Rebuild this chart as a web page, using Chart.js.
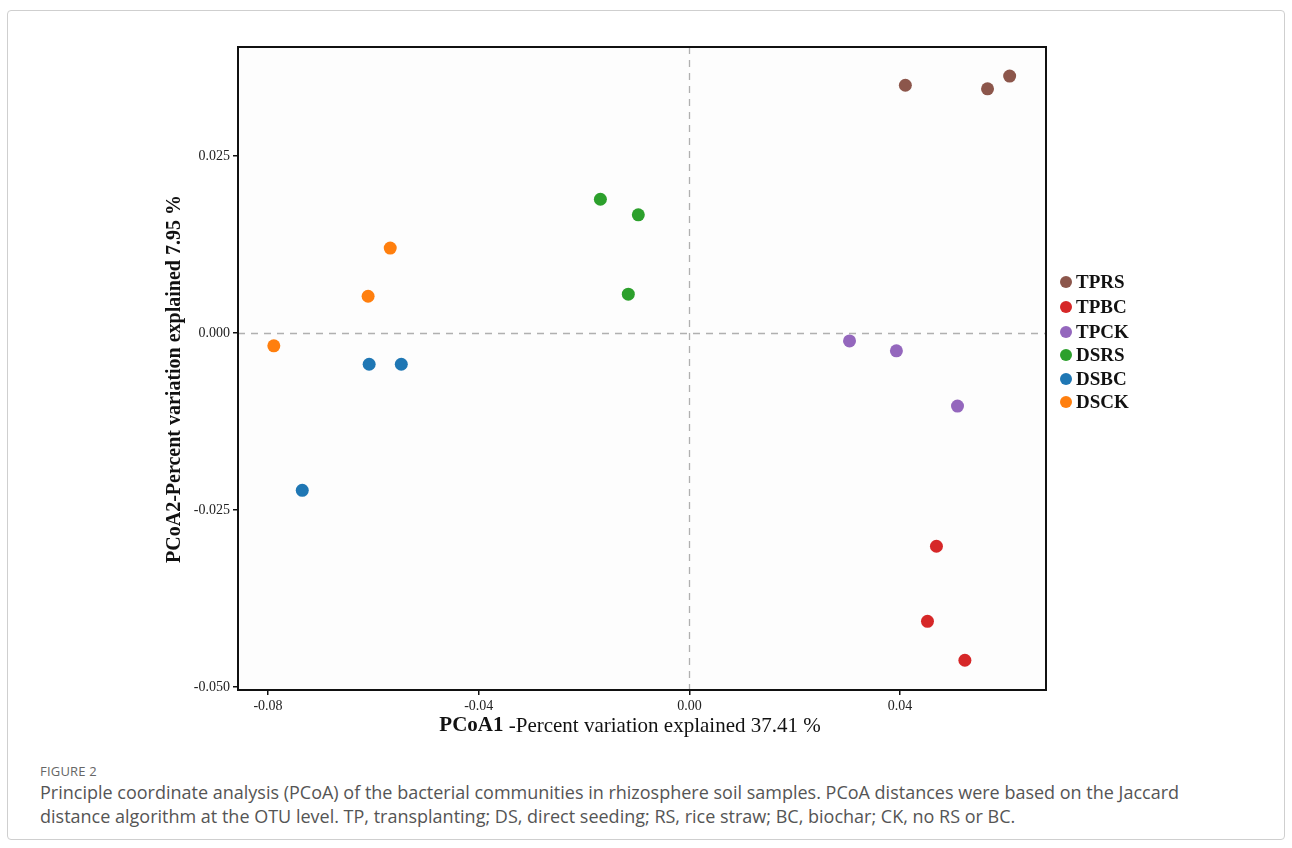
<!DOCTYPE html>
<html>
<head>
<meta charset="utf-8">
<script src="https://cdn.jsdelivr.net/npm/chart.js@4.4.1/dist/chart.umd.min.js"></script>
<style>
  body { margin: 0; background: #fff; }
  #frame { position: absolute; left: 7px; top: 10px; width: 1276px; height: 828px; border: 1px solid #cfcfcf; border-radius: 4px; }
  #wrap { position: absolute; left: 0; top: 0; width: 1292px; height: 750px; }
  #fig { position: absolute; left: 40px; top: 762px; font-family: "Open Sans", sans-serif; font-size: 13px; color: #666; letter-spacing: 0.2px; }
  #cap { position: absolute; left: 40px; top: 780px; width: 1185px; font-family: "Open Sans", sans-serif; font-size: 18px; line-height: 24px; color: #555; }
</style>
</head>
<body>
<div id="frame"></div>
<div id="wrap"><canvas id="pcoa"></canvas></div>
<div id="fig">FIGURE 2</div>
<div id="cap">Principle coordinate analysis (PCoA) of the bacterial communities in rhizosphere soil samples. PCoA distances were based on the Jaccard distance algorithm at the OTU level. TP, transplanting; DS, direct seeding; RS, rice straw; BC, biochar; CK, no RS or BC.</div>
<script>
// groupes et couleurs
const groupes = ['TPRS', 'TPBC', 'TPCK', 'DSRS', 'DSBC', 'DSCK'];
const couleurs = ['#8c564b', '#d62728', '#9467bd', '#2ca02c', '#1f77b4', '#ff7f0e'];

// coordonnées PCoA1 / PCoA2 de chaque échantillon
const tprs = [{x: 0.0410, y: 0.0350}, {x: 0.0566, y: 0.0345}, {x: 0.0608, y: 0.0363}];
const tpbc = [{x: 0.0469, y: -0.0301}, {x: 0.0452, y: -0.0407}, {x: 0.0523, y: -0.0462}];
const tpck = [{x: 0.0304, y: -0.0011}, {x: 0.0393, y: -0.0025}, {x: 0.0509, y: -0.0103}];
const dsrs = [{x: -0.0169, y: 0.0189}, {x: -0.0097, y: 0.0167}, {x: -0.0116, y: 0.0055}];
const dsbc = [{x: -0.0608, y: -0.0044}, {x: -0.0547, y: -0.0044}, {x: -0.0735, y: -0.0222}];
const dsck = [{x: -0.0789, y: -0.0018}, {x: -0.0610, y: 0.0052}, {x: -0.0568, y: 0.0120}];
const points = [tprs, tpbc, tpck, dsrs, dsbc, dsck];

const xTicks = [-0.08, -0.04, 0.00, 0.04];
const yTicks = [-0.050, -0.025, 0.000, 0.025];

const serif = '"Liberation Serif", "Times New Roman", serif';

// cadre, lignes zéro, titres d'axes et légende
const decor = {
    id: 'decor',
    beforeDatasetsDraw(chart) {
        const ctx = chart.ctx;
        const a = chart.chartArea;
        const sx = chart.scales.x, sy = chart.scales.y;
        ctx.save();
        ctx.fillStyle = '#fdfdfd';
        ctx.fillRect(a.left, a.top, a.right - a.left, a.bottom - a.top);
        ctx.strokeStyle = '#b0b0b0';
        ctx.lineWidth = 1.3;
        ctx.setLineDash([7, 6]);
        const x0 = Math.round(sx.getPixelForValue(0)) + 0.5;
        const y0 = Math.round(sy.getPixelForValue(0)) + 0.5;
        ctx.beginPath();
        ctx.moveTo(x0, a.top); ctx.lineTo(x0, a.bottom);
        ctx.moveTo(a.left, y0); ctx.lineTo(a.right, y0);
        ctx.stroke();
        ctx.restore();
    },
    afterDraw(chart) {
        const ctx = chart.ctx;
        const a = chart.chartArea;
        ctx.save();
        ctx.strokeStyle = '#111';
        ctx.lineWidth = 2;
        ctx.strokeRect(a.left, a.top, a.right - a.left, a.bottom - a.top);

        // titre axe x
        ctx.fillStyle = '#111';
        ctx.textBaseline = 'middle';
        const t1 = 'PCoA1', t2 = ' -Percent variation explained 37.41 %';
        ctx.font = 'bold 21px ' + serif;
        const w1 = ctx.measureText(t1).width;
        ctx.font = '21px ' + serif;
        const w2 = ctx.measureText(t2).width;
        let xs = 630 - (w1 + w2) / 2;
        ctx.textAlign = 'left';
        ctx.font = 'bold 21px ' + serif;
        ctx.fillText(t1, xs, 726);
        ctx.font = '21px ' + serif;
        ctx.fillText(t2, xs + w1, 726);

        // titre axe y
        ctx.translate(175, 379);
        ctx.rotate(-Math.PI / 2);
        ctx.textAlign = 'center';
        ctx.font = 'bold 20px ' + serif;
        ctx.fillText('PCoA2-Percent variation explained 7.95 %', 0, 0);
        ctx.restore();

        // légende
        ctx.save();
        ctx.textAlign = 'left';
        ctx.textBaseline = 'middle';
        ctx.font = 'bold 19px ' + serif;
        const ly = [282, 307, 332, 355, 379, 402];
        groupes.forEach((g, i) => {
            ctx.fillStyle = couleurs[i];
            ctx.beginPath();
            ctx.arc(1066, ly[i], 6, 0, Math.PI * 2);
            ctx.fill();
            ctx.fillStyle = '#111';
            ctx.fillText(g, 1076, ly[i] + 1);
        });
        ctx.restore();
    }
};

const ctx = document.getElementById('pcoa').getContext('2d');
const myChart = new Chart(ctx, {
    type: 'scatter',
    data: {
        datasets: groupes.map((g, i) => ({
            label: g,
            data: points[i],
            backgroundColor: couleurs[i],
            borderColor: couleurs[i],
            pointRadius: 6.5,
            pointBorderWidth: 0
        }))
    },
    options: {
        responsive: true,
        maintainAspectRatio: false,
        animation: false,
        layout: { padding: { left: 0, top: 47, right: 246, bottom: 0 } },
        plugins: { legend: { display: false }, tooltip: { enabled: false } },
        scales: {
            x: {
                type: 'linear',
                min: -0.0857,
                max: 0.0677,
                afterFit: (s) => { s.height = 60; },
                afterBuildTicks: (s) => { s.ticks = xTicks.map(v => ({ value: v })); },
                ticks: {
                    color: '#222',
                    font: { family: serif, size: 14 },
                    padding: 3,
                    callback: (v) => Number(v).toFixed(2)
                },
                grid: { drawOnChartArea: false, drawTicks: true, tickLength: 5, color: '#111', lineWidth: 1.5 },
                border: { display: true, color: '#111', width: 2 }
            },
            y: {
                type: 'linear',
                min: -0.0504,
                max: 0.0404,
                afterFit: (s) => { s.width = 238; },
                afterBuildTicks: (s) => { s.ticks = yTicks.map(v => ({ value: v })); },
                ticks: {
                    color: '#222',
                    font: { family: serif, size: 14 },
                    padding: 3,
                    callback: (v) => Number(v).toFixed(3)
                },
                grid: { drawOnChartArea: false, drawTicks: true, tickLength: 5, color: '#111', lineWidth: 1.5 },
                border: { display: true, color: '#111', width: 2 }
            }
        }
    },
    plugins: [decor]
});
</script>
</body>
</html>
